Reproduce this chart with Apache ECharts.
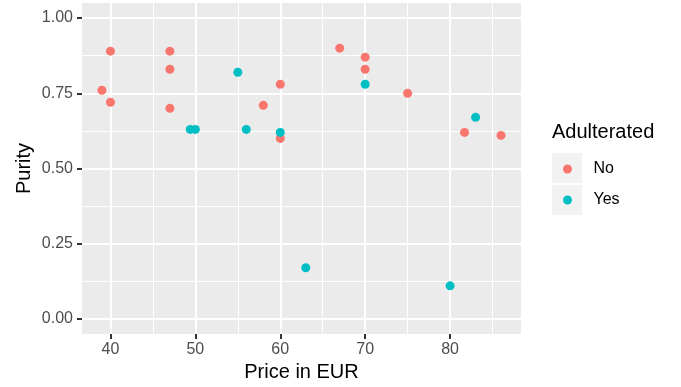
<!DOCTYPE html>
<html><head><meta charset="utf-8">
<script src="https://cdn.jsdelivr.net/npm/echarts@6/dist/echarts.min.js"></script>
<style>html,body{margin:0;padding:0;background:#fff}#c{width:681px;height:387px}</style>
</head><body><div id="c"></div>
<script>
// Data
const noPrice  = [40, 39, 40, 47, 47, 47, 58, 60, 60, 67, 70, 70, 75, 81.7, 86];
const noPurity = [0.89, 0.76, 0.72, 0.89, 0.83, 0.70, 0.71, 0.78, 0.60, 0.90, 0.87, 0.83, 0.75, 0.62, 0.61];
const yesPrice  = [49.4, 50, 55, 56, 60, 70, 83, 63, 80];
const yesPurity = [0.63, 0.63, 0.82, 0.63, 0.62, 0.78, 0.67, 0.17, 0.11];
const groups = ['No', 'Yes'];
const xMajor = [40, 50, 60, 70, 80];
const xMinor = [45, 55, 65, 75, 85];
const yMajor = [0, 0.25, 0.5, 0.75, 1];
const yMinor = [0.125, 0.375, 0.625, 0.875];

const FONT = '"Liberation Sans", Arial, sans-serif';
const xMin = 36.65, xMax = 88.35, yMin = -0.05, yMax = 1.05;

function pairs(xs, ys) { return xs.map((x, i) => [x, ys[i]]); }

const chart = echarts.init(document.getElementById('c'), null, {renderer: 'canvas'});
const tickStyle = {color: '#333333', width: 2};
chart.setOption({
  animation: false,
  backgroundColor: '#ffffff',
  textStyle: {fontFamily: FONT},
  grid: {left: 82, right: 160, top: 3, bottom: 53, show: true, backgroundColor: '#EBEBEB', borderWidth: 0},
  xAxis: [
    {type: 'value', position: 'bottom', min: xMin, max: xMax,
     axisLine: {show: false, onZero: false},
     axisTick: {show: true, customValues: xMajor, length: 5, lineStyle: tickStyle},
     axisLabel: {customValues: xMajor, color: '#4D4D4D', fontSize: 16, margin: 8, fontFamily: FONT,
                 formatter: v => String(v)},
     splitLine: {show: true, lineStyle: {color: '#ffffff', width: 2}},
     name: 'Price in EUR', nameLocation: 'middle', nameGap: 28, nameMoveOverlap: false,
     nameTextStyle: {fontSize: 20, color: '#000000', fontFamily: FONT}},
    {type: 'value', position: 'top', min: xMin, max: xMax,
     axisLine: {show: false, onZero: false},
     axisTick: {show: false, customValues: xMinor},
     axisLabel: {show: false, customValues: xMinor},
     splitLine: {show: true, lineStyle: {color: '#ffffff', width: 1}}}
  ],
  yAxis: [
    {type: 'value', position: 'left', min: yMin, max: yMax,
     axisLine: {show: false, onZero: false},
     axisTick: {show: true, customValues: yMajor, length: 5, lineStyle: tickStyle},
     axisLabel: {customValues: yMajor, color: '#4D4D4D', fontSize: 16, margin: 9, fontFamily: FONT,
                 formatter: v => v.toFixed(2)},
     splitLine: {show: true, lineStyle: {color: '#ffffff', width: 2}},
     name: 'Purity', nameLocation: 'middle', nameGap: 48, nameRotate: 90, nameMoveOverlap: false,
     nameTextStyle: {fontSize: 20, color: '#000000', fontFamily: FONT}},
    {type: 'value', position: 'right', min: yMin, max: yMax,
     axisLine: {show: false, onZero: false},
     axisTick: {show: false, customValues: yMinor},
     axisLabel: {show: false, customValues: yMinor},
     splitLine: {show: true, lineStyle: {color: '#ffffff', width: 1}}}
  ],
  legend: {
    data: groups, orient: 'vertical', left: 558, top: 156, z: 5,
    icon: 'circle', itemWidth: 30, itemHeight: 9, itemGap: 15,
    textStyle: {fontSize: 16, color: '#000000', lineHeight: 16, padding: [0, 0, 0, 6], fontFamily: FONT},
    selectedMode: false
  },
  graphic: [
    {type: 'rect', left: 552, top: 153, shape: {width: 30, height: 30}, style: {fill: '#F2F2F2'}, z: 1},
    {type: 'rect', left: 552, top: 185, shape: {width: 30, height: 30}, style: {fill: '#F2F2F2'}, z: 1},
    {type: 'text', left: 552, top: 122, style: {text: 'Adulterated', fontSize: 20, fill: '#000000', fontFamily: FONT}, z: 1}
  ],
  series: [
    {name: groups[0], type: 'scatter', xAxisIndex: 0, yAxisIndex: 0, symbolSize: 9,
     itemStyle: {color: '#F8766D', opacity: 1}, data: pairs(noPrice, noPurity)},
    {name: groups[1], type: 'scatter', xAxisIndex: 0, yAxisIndex: 0, symbolSize: 9,
     itemStyle: {color: '#00BFC4', opacity: 1}, data: pairs(yesPrice, yesPurity)}
  ]
});
</script>
</body></html>
